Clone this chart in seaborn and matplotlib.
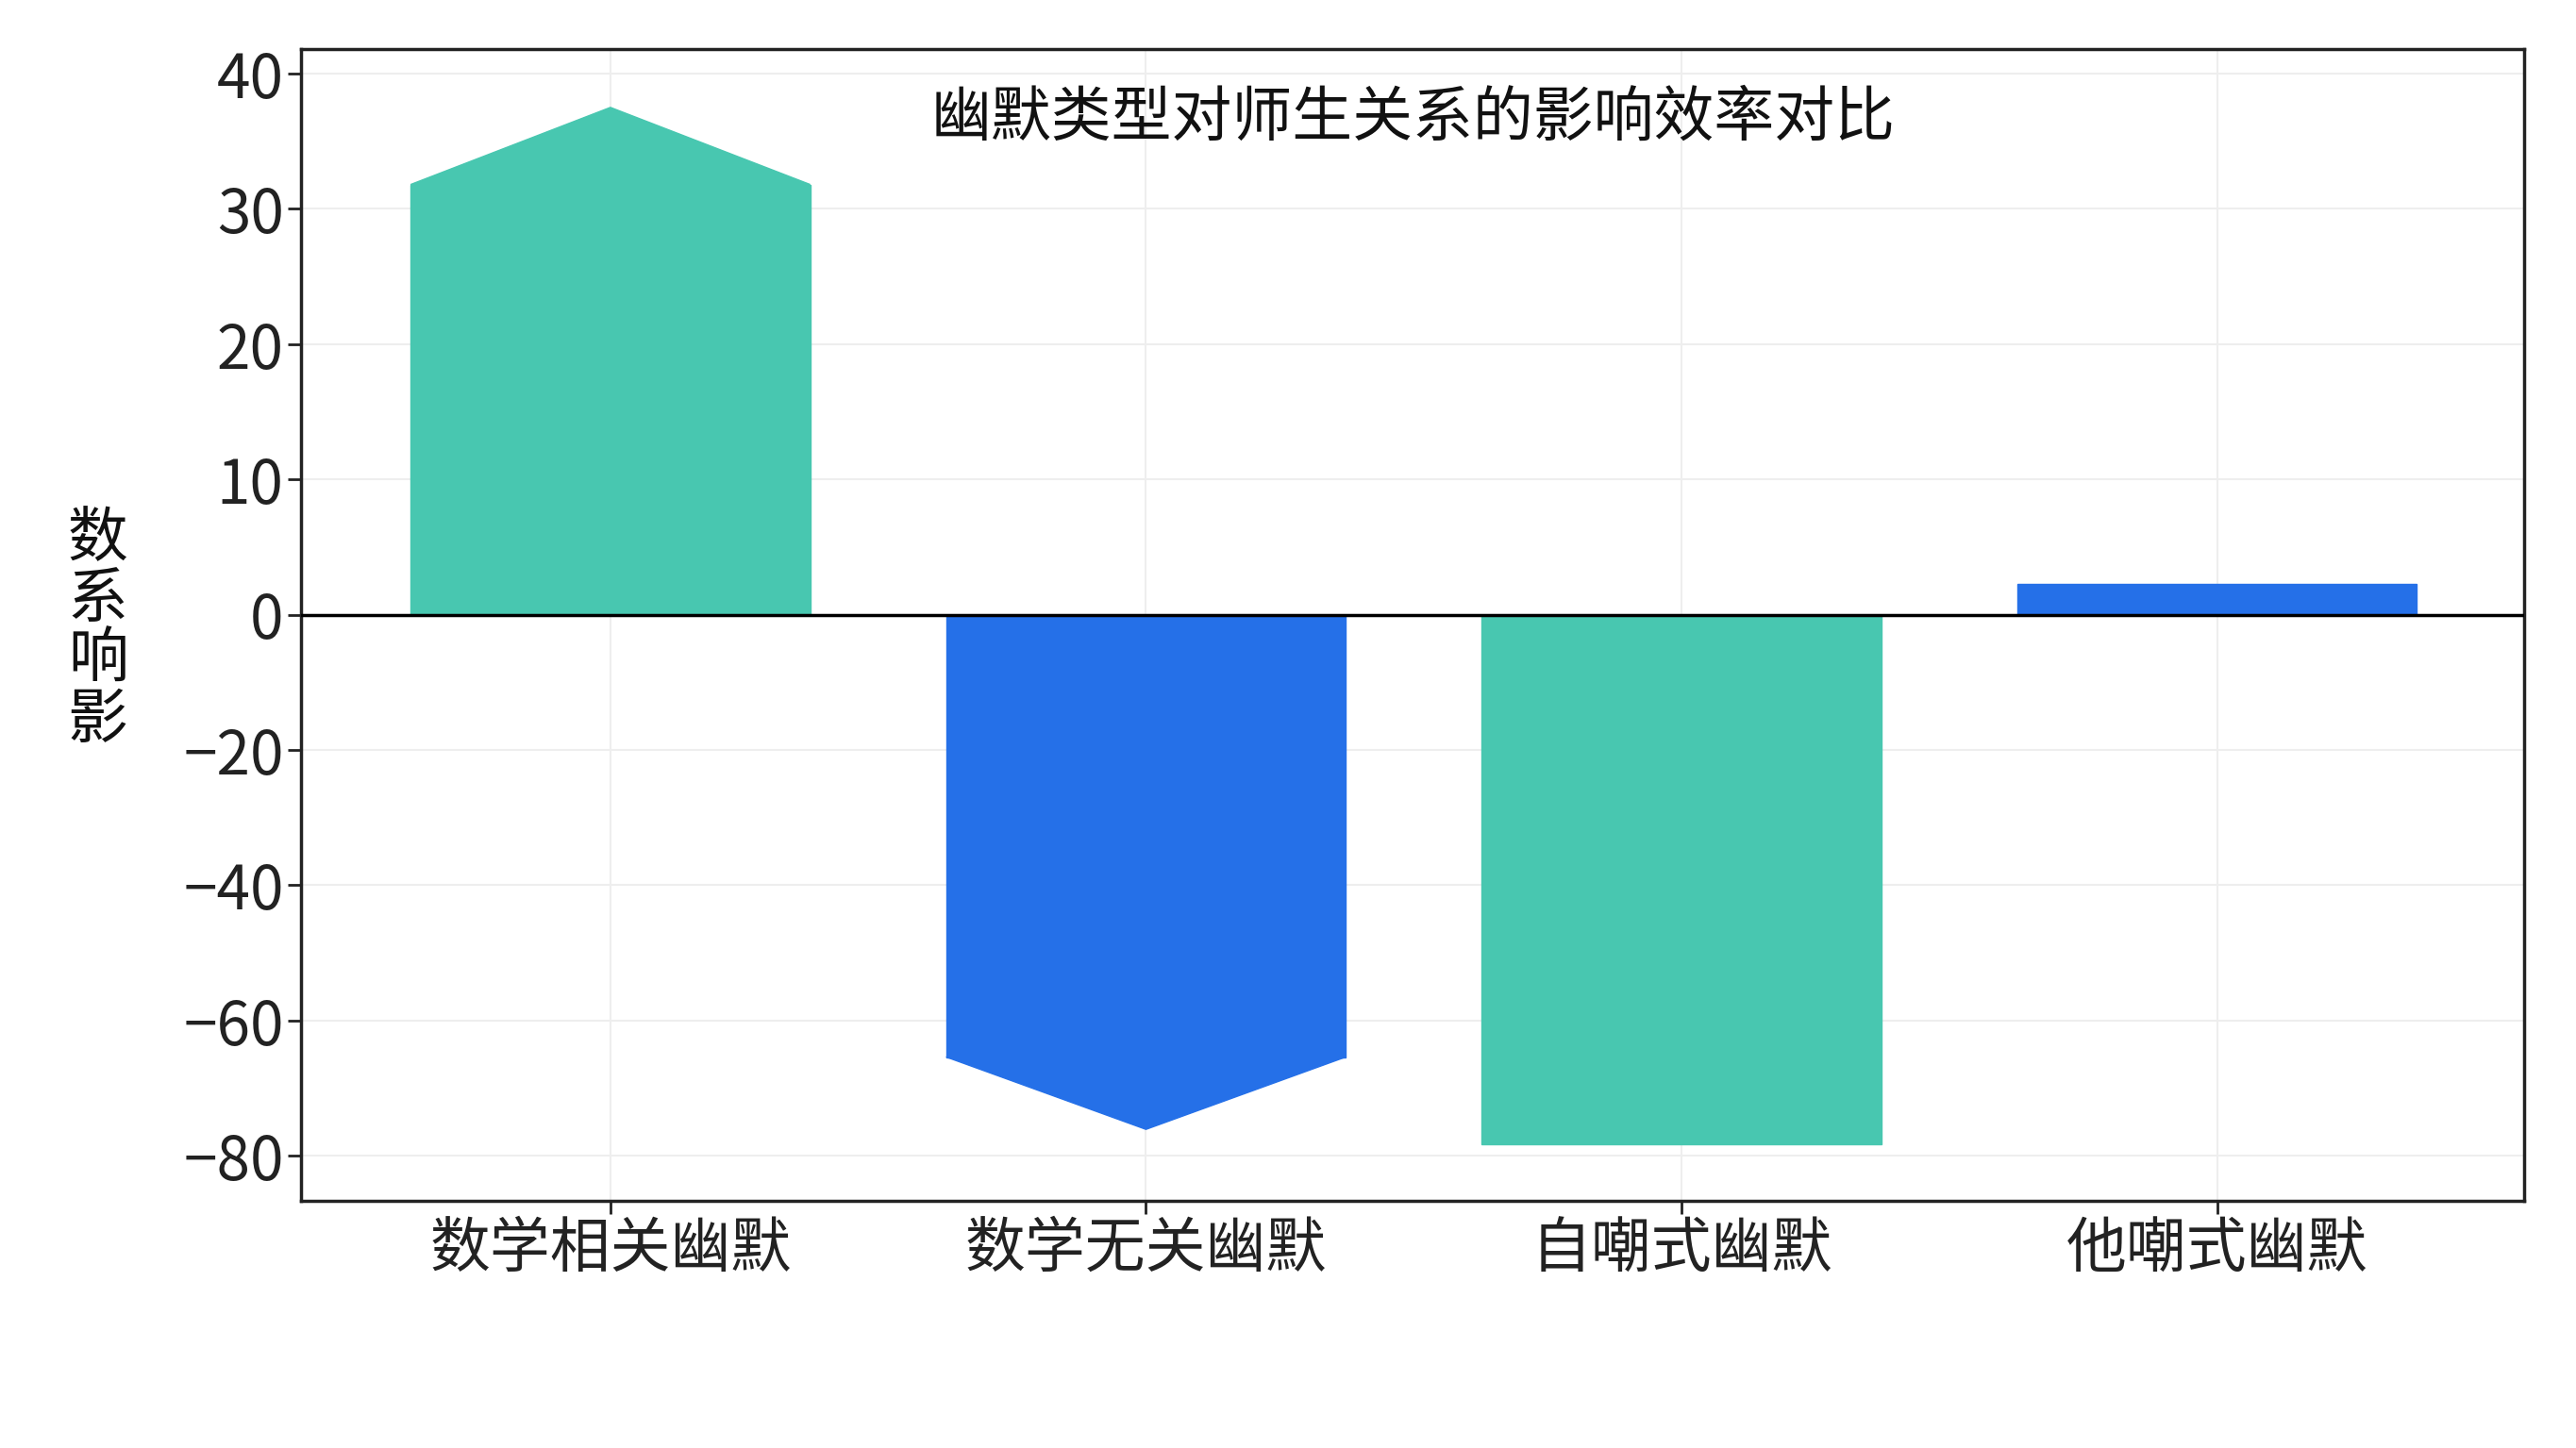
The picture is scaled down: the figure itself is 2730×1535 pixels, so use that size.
import numpy as np
import pandas as pd
import seaborn as sns
import matplotlib.pyplot as plt
from matplotlib.patches import Polygon

categories = ['数学相关幽默', '数学无关幽默', '自嘲式幽默', '他嘲式幽默']
values = [31.8, -65.4, -78.3, 2.3]
# tip of the arrow-shaped ends (None = flat bar)
tips = [37.5, -76.1, None, None]
colors = ['#48c7b0', '#2570e8', '#48c7b0', '#2570e8']

sns.set_theme(style='whitegrid')
plt.rcParams['font.family'] = ['Noto Sans CJK SC', 'DejaVu Sans']
plt.rcParams['axes.unicode_minus'] = True


def fwd(y):
    y = np.asarray(y, dtype=float)
    return np.where(y > 0, 2 * y, y)


def inv(y):
    y = np.asarray(y, dtype=float)
    return np.where(y > 0, y / 2, y)


fig = plt.figure(figsize=(27.3, 15.35), dpi=100)
ax = fig.add_axes([0.117, 0.171, 0.863, 0.795])
ax.set_yscale('function', functions=(fwd, inv))
df = pd.DataFrame({'cat': categories, 'val': values})
sns.barplot(data=df, x='cat', y='val', hue='cat', palette=colors, width=0.746,
            saturation=1, legend=False, ax=ax)

for patch, v, tip, c in zip(ax.patches, values, tips, colors):
    patch.set_edgecolor(c)
    patch.set_linewidth(1)
    if tip is None:
        continue
    x0 = patch.get_x()
    w = patch.get_width()
    ax.add_patch(Polygon([[x0, v], [x0 + w / 2, tip], [x0 + w, v]], closed=True,
                         facecolor=c, edgecolor=c, lw=1))

ax.axhline(0, color='black', lw=2.5, zorder=5)
ax.set_xlim(-0.577, 3.574)
ax.set_ylim(-86.6, 41.8)
ax.set_yticks([40, 30, 20, 10, 0, -20, -40, -60, -80])
ax.set_yticklabels(['40', '30', '20', '10', '0', '−20', '−40', '−60', '−80'])
ax.set_xlabel('')
ax.set_ylabel('')
ax.grid(True, color='#eeeeee', lw=1.5)
ax.set_axisbelow(True)
for s in ax.spines.values():
    s.set_color('#222222')
    s.set_linewidth(2.5)
ax.tick_params(axis='both', labelsize=46, colors='#222222', length=10, width=2, direction='out',
               left=True, bottom=True)
ax.text(0.5, 0.94, '幽默类型对师生关系的影响效率对比', transform=ax.transAxes,
        ha='center', va='center', fontsize=46, color='#111111')
fig.text(0.038, 0.565, '数\n系\n响\n影', ha='center', va='center', fontsize=46,
         linespacing=0.95, color='#111111')

fig.savefig('out.png', dpi=100, facecolor='white')
